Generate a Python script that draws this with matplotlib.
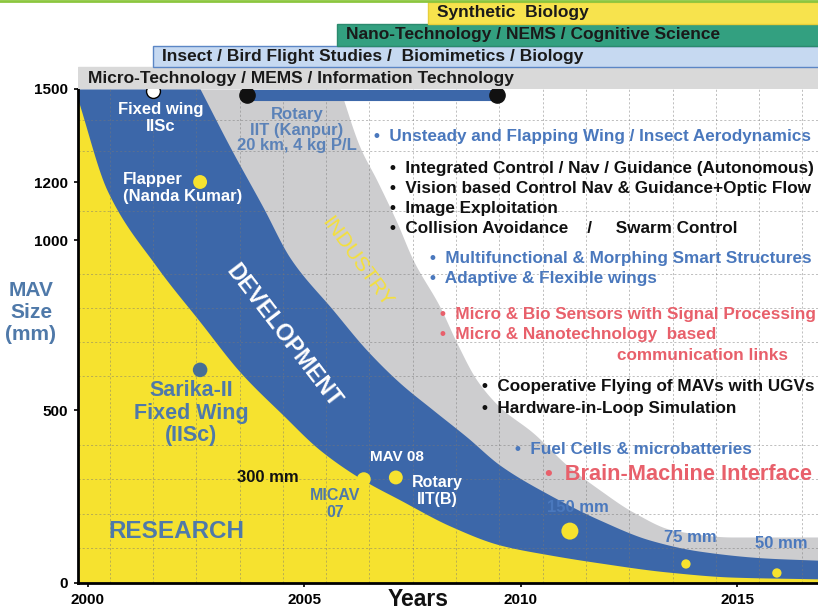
import numpy as np
import matplotlib
matplotlib.use('Agg')
import matplotlib.pyplot as plt
from matplotlib.lines import Line2D

W, H = 818, 611

# the original y axis is unevenly spaced: mm value -> drawn height
MM_KNOTS = [0, 500, 1000, 1200, 1500]
POS_KNOTS = [0, 173, 343, 401, 494]
MM_TICKS = [0, 500, 1000, 1200, 1500]
YEAR_TICKS = [2000, 2005, 2010, 2015]

# region boundaries (year, MAV size in mm)
RESEARCH_YR = [1999.77, 2000.44, 2001.59, 2002.59, 2003.51, 2004.50, 2005.36, 2006.35,
               2007.21, 2008.36, 2009.51, 2010.67, 2011.82, 2013.37, 2014.90, 2016.86]
RESEARCH_MM = [1465, 1172, 921, 759, 612, 486, 384, 298,
               240, 165, 110, 81, 58, 32, 17, 12]
DEV_YR = [2002.59, 2003.28, 2004.04, 2004.67, 2005.66, 2006.44, 2007.21, 2007.97,
          2008.75, 2009.51, 2010.67, 2011.82, 2012.98, 2014.13, 2015.68, 2016.86]
DEV_MM = [1500, 1313, 1114, 947, 794, 676, 579, 500,
          422, 341, 254, 182, 124, 92, 72, 66]
IND_YR = [2005.82, 2006.28, 2006.67, 2007.14, 2007.51, 2008.13, 2008.52, 2008.98,
          2009.51, 2010.28, 2011.06, 2011.82, 2012.59, 2013.51, 2014.90, 2016.86]
IND_MM = [1500, 1313, 1206, 1059, 941, 803, 697, 588,
          509, 434, 341, 269, 205, 153, 133, 133]

# MAV milestones
MAV_NAMES = ['Fixed wing IISc', 'Flapper', 'Sarika-II', 'MICAV 07', 'MAV 08',
             '150 mm', '75 mm', '50 mm']
MAV_YEAR = [2001.50, 2002.59, 2002.59, 2006.37, 2007.11, 2011.13, 2013.81, 2015.91]
MAV_SIZE = [1494, 1200, 618, 300, 305, 150, 55, 29]

ROTARY_YEARS = [2003.67, 2009.45]
ROTARY_MM = 1482

BANNERS = ['Micro-Technology / MEMS / Information Technology',
           'Insect / Bird Flight Studies /  Biomimetics / Biology',
           'Nano-Technology / NEMS / Cognitive Science',
           'Synthetic  Biology']
BANNER_START = [1999.77, 2001.50, 2005.75, 2007.85]

XMIN, XMAX = 1999.77, 2016.86
YELLOW = '#f6e22f'
BLUE = '#3c67a9'
GRAY = '#cdcdcf'
TBLUE = '#4a78bd'
SBLUE = '#4f79a9'
RED = '#e8606b'

plt.rcParams['font.family'] = ['Liberation Sans', 'DejaVu Sans']
plt.rcParams['font.weight'] = 'bold'

fig = plt.figure(figsize=(W / 100, H / 100), dpi=100)
ax = fig.add_axes([78 / W, (H - 583) / H, (818 - 78) / W, (583 - 89) / H])
bax = fig.add_axes([78 / W, (H - 89) / H, (818 - 78) / W, 87 / H], sharex=ax)


def fwd(v):
    return np.interp(v, MM_KNOTS, POS_KNOTS)


def inv(v):
    return np.interp(v, POS_KNOTS, MM_KNOTS)


def smooth(x, y, n=400):
    # monotone cubic (Fritsch-Carlson) through the read points, only for drawing
    x = np.asarray(x, float)
    y = fwd(np.asarray(y, float))
    h = np.diff(x)
    d = np.diff(y) / h
    m = np.zeros_like(y)
    m[0], m[-1] = d[0], d[-1]
    for k in range(1, len(y) - 1):
        if d[k - 1] * d[k] > 0:
            w1 = 2 * h[k] + h[k - 1]
            w2 = h[k] + 2 * h[k - 1]
            m[k] = (w1 + w2) / (w1 / d[k - 1] + w2 / d[k])
    xn = np.linspace(x[0], x[-1], n)
    i = np.clip(np.searchsorted(x, xn) - 1, 0, len(x) - 2)
    t = (xn - x[i]) / h[i]
    h00 = 2 * t**3 - 3 * t**2 + 1
    h10 = t**3 - 2 * t**2 + t
    h01 = -2 * t**3 + 3 * t**2
    h11 = t**3 - t**2
    yn = h00 * y[i] + h10 * h[i] * m[i] + h01 * y[i + 1] + h11 * h[i] * m[i + 1]
    return xn, inv(yn)


ax.set_yscale('function', functions=(fwd, inv))
ax.set_xlim(XMIN, XMAX)
ax.set_ylim(0, 1500)

# stacked regions: industry, development, research
for xs, ys, col in [(IND_YR, IND_MM, GRAY), (DEV_YR, DEV_MM, BLUE),
                    (RESEARCH_YR, RESEARCH_MM, YELLOW)]:
    sx, sy = smooth(xs, ys)
    x = np.r_[XMIN, sx]
    y = np.r_[1500, sy]
    ax.fill_between(x, 0, y, color=col, lw=0, zorder=1)

ax.set_yticks(MM_TICKS)
ax.set_yticks(np.arange(100, 1500, 100), minor=True)
ax.set_xticks(YEAR_TICKS)
ax.set_xticks(np.arange(2000.5, 2017, 1.0), minor=True)
ax.grid(which='minor', color='#777777', lw=0.6, ls=(0, (2.5, 2.5)), alpha=0.55)
ax.set_axisbelow(False)
ax.tick_params(which='minor', length=0)
ax.tick_params(which='major', length=3, width=1.2, labelsize=11, pad=4)
for lab in ax.get_xticklabels() + ax.get_yticklabels():
    lab.set_fontweight('bold')
for s in ['top', 'right']:
    ax.spines[s].set_visible(False)
for s in ['left', 'bottom']:
    ax.spines[s].set_linewidth(2)
    ax.spines[s].set_zorder(5)

# rotary bar and milestone dots
ax.plot(ROTARY_YEARS, [ROTARY_MM] * 2, color=BLUE, lw=8, solid_capstyle='butt', zorder=4)
ax.scatter(ROTARY_YEARS, [ROTARY_MM] * 2, s=120, color='#111111', zorder=5, clip_on=False)

dot_style = {
    'Fixed wing IISc': dict(s=100, facecolor='white', edgecolor='black', linewidths=1),
    'Sarika-II': dict(s=110, facecolor='#466e96', edgecolor='none'),
    '150 mm': dict(s=150, facecolor=YELLOW, edgecolor='none'),
    '75 mm': dict(s=45, facecolor=YELLOW, edgecolor='none'),
    '50 mm': dict(s=45, facecolor=YELLOW, edgecolor='none'),
}
for name, yr, mm in zip(MAV_NAMES, MAV_YEAR, MAV_SIZE):
    st = dot_style.get(name, dict(s=100, facecolor=YELLOW, edgecolor='none'))
    ax.scatter([yr], [mm], zorder=6, clip_on=False, **st)

# technology banners
rows = np.arange(len(BANNERS))
bcols = ['#d9d9d9', '#c6d9f1', '#33a080', '#f7e34d']
bedges = ['#d9d9d9', '#5b86c5', '#2b8a6e', '#e8cf3a']
bax.barh(rows, [XMAX + 1 - s for s in BANNER_START], left=BANNER_START, height=1.0,
         color=bcols, edgecolor=bedges, lw=1)
bax.set_ylim(-0.5, 3.5)
bax.axis('off')
for r, (txt, st) in enumerate(zip(BANNERS, BANNER_START)):
    bax.text(st + 0.22, r, txt, va='center', ha='left', fontsize=12.5,
             color='#1a1a1a')
fig.add_artist(Line2D([0, 1], [1 - 1 / H] * 2, color='#8cc63f', lw=2))


def ft(x, y, s, **kw):
    kw.setdefault('ha', 'center')
    kw.setdefault('va', 'center')
    kw.setdefault('fontweight', 'bold')
    fig.text(x / W, 1 - y / H, s, **kw)


# labels on the chart
ft(161, 118, 'Fixed wing\nIISc', color='white', fontsize=12, linespacing=1.15)
ft(297, 130, 'Rotary\nIIT (Kanpur)\n20 km, 4 kg P/L', color='#5b82b8', fontsize=12,
   linespacing=1.05)
ft(123, 188, 'Flapper\n(Nanda Kumar)', color='white', fontsize=12, ha='left',
   linespacing=1.2)
ft(191, 413, 'Sarika-II\nFixed Wing\n(IISc)', color=SBLUE, fontsize=15.5, linespacing=1.1)
ft(268, 477, '300 mm', color='#111111', fontsize=12)
ft(335, 504, 'MICAV\n07', color=SBLUE, fontsize=11.5, linespacing=1.1)
ft(397, 457, 'MAV 08', color='white', fontsize=11)
ft(437, 491, 'Rotary\nIIT(B)', color='white', fontsize=11.5, linespacing=1.2)
ft(578, 508, '150 mm', color=TBLUE, fontsize=12)
ft(690, 538, '75 mm', color=TBLUE, fontsize=12)
ft(781, 543, '50 mm', color=TBLUE, fontsize=12)
ft(176, 532, 'RESEARCH', color=SBLUE, fontsize=17.5)
ft(284, 336, 'DEVELOPMENT', color='white', fontsize=16.5, rotation=-52.5,
   rotation_mode='anchor')
ft(357, 262, 'INDUSTRY', color='#f5e03a', fontsize=15, fontweight='normal',
   rotation=-54, rotation_mode='anchor')
ft(31, 313, 'MAV\nSize\n(mm)', color=SBLUE, fontsize=15, linespacing=1.2)
ft(418, 600, 'Years', color='#111111', fontsize=16.5)

# research topics
topics = [
    (374, 136, '•  Unsteady and Flapping Wing / Insect Aerodynamics', TBLUE, 12.3),
    (390, 168, '•  Integrated Control / Nav / Guidance (Autonomous)', '#111111', 12.3),
    (390, 188, '•  Vision based Control Nav & Guidance+Optic Flow', '#111111', 12.3),
    (390, 209, '•  Image Exploitation', '#111111', 12.3),
    (390, 229, '•  Collision Avoidance    /     Swarm Control', '#111111', 12.3),
    (430, 258, '•  Multifunctional & Morphing Smart Structures', TBLUE, 12.3),
    (430, 279, '•  Adaptive & Flexible wings', TBLUE, 12.3),
    (440, 315, '•  Micro & Bio Sensors with Signal Processing', RED, 12.3),
    (440, 335, '•  Micro & Nanotechnology  based', RED, 12.3),
    (617, 356, 'communication links', RED, 12.3),
    (482, 387, '•  Cooperative Flying of MAVs with UGVs', '#111111', 12.3),
    (482, 408, '•  Hardware-in-Loop Simulation', '#111111', 12.3),
    (515, 450, '•  Fuel Cells & microbatteries', TBLUE, 12.3),
    (545, 475, '•  Brain-Machine Interface', RED, 15.7),
]
for x, y, s, c, fs in topics:
    ft(x, y, s, color=c, fontsize=fs, ha='left')

fig.savefig('out.png', dpi=100)
